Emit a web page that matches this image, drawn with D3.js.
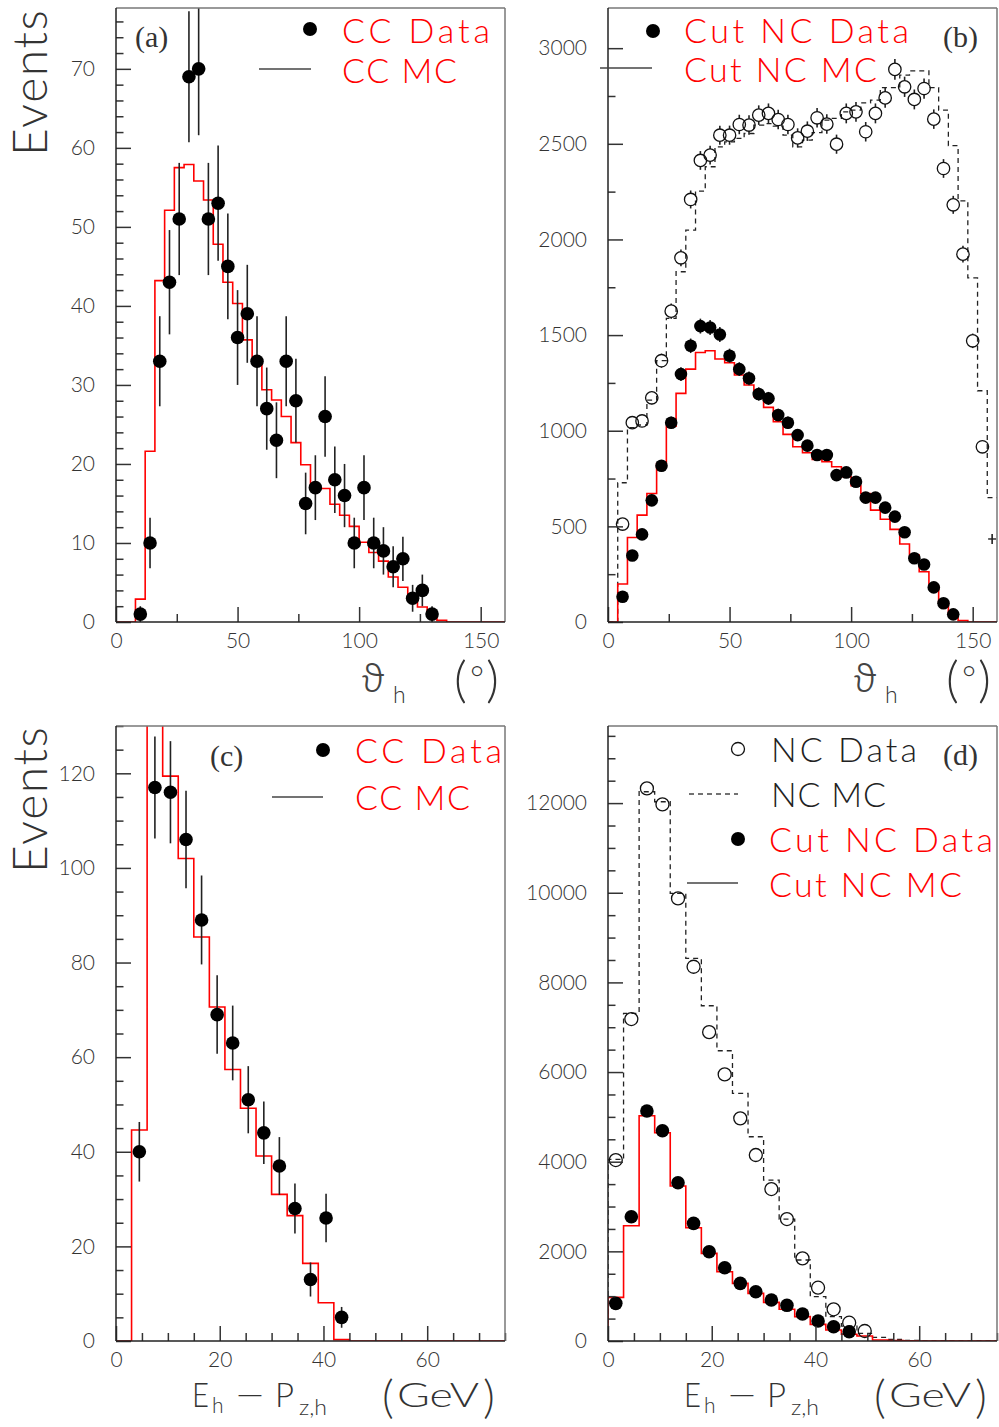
<!DOCTYPE html>
<html><head><meta charset="utf-8">
<script src="https://cdn.jsdelivr.net/npm/d3@7/dist/d3.min.js"></script>
<style>body{margin:0;background:#fff}svg{display:block}</style>
</head><body><script>
// ---------------- DATA ----------------
// Panel (a): CC, theta_h (deg)
const aEdges = [0,4,8,12,16,20,24,28,32,36,40,44,48,52,56,60,64,68,72,76,80,84,88,92,96,100,104,108,112,116,120,124,128,132,136,140,144,148,152,156,160];
const aMC = [0,0,2.9,21.6,43.2,52.1,57.5,57.9,55.8,53.4,47.8,43.0,40.3,35.7,33.1,29.4,28.1,26.0,22.7,19.9,17.3,16.9,14.9,13.5,12.1,10.1,8.8,7.7,5.7,4.4,3.0,1.9,1.0,0.2,0,0,0,0,0,0];
const aDataX = [10,14,18,22,26,30,34,38,42,46,50,54,58,62,66,70,74,78,82,86,90,94,98,102,106,110,114,118,122,126,130];
const aDataY = [1,10,33,43,51,69,70,51,53,45,36,39,33,27,23,33,28,15,17,26,18,16,10,17,10,9,7,8,3,4,1];
const aDataErr = [1.0,3.2,5.7,6.6,7.1,8.3,8.4,7.1,7.3,6.7,6.0,6.2,5.7,5.2,4.8,5.7,5.3,3.9,4.1,5.1,4.2,4.0,3.2,4.1,3.2,3.0,2.6,2.8,1.7,2.0,1.0];
const aXTicks = [0,50,100,150];
const aYTicks = [0,10,20,30,40,50,60,70];

// Panel (b): NC and cut NC, theta_h (deg)
const bEdges = aEdges;
const bNcMC = [0,728,1016,1030,1160,1366,1587,1831,2049,2253,2380,2484,2510,2528,2554,2598,2606,2592,2545,2484,2519,2558,2624,2633,2667,2676,2714,2728,2794,2794,2859,2881,2881,2794,2676,2490,2202,1799,1209,650];
const bCutMC = [0,199,442,559,672,829,1024,1195,1322,1409,1418,1375,1355,1291,1239,1178,1122,1047,981,916,885,850,838,812,760,713,672,585,537,484,408,350,263,185,101,37,7,0,0,0];
const bNcX = [6,10,14,18,22,26,30,34,38,42,46,50,54,58,62,66,70,74,78,82,86,90,94,98,102,106,110,114,118,122,126,130,134,138,142,146,150,154,158];
const bNcY = [512,1042,1051,1172,1366,1625,1904,2209,2413,2441,2545,2545,2601,2598,2650,2659,2627,2601,2531,2566,2636,2603,2498,2659,2667,2563,2659,2740,2889,2798,2732,2789,2629,2371,2181,1923,1470,916,434];
const bNcErr = [23,32,32,34,37,40,44,47,49,49,50,50,51,51,51,52,51,51,50,51,51,51,50,52,52,51,52,52,54,53,52,53,51,49,47,44,38,30,21];
const bCutX = [6,10,14,18,22,26,30,34,38,42,46,50,54,58,62,66,70,74,78,82,86,90,94,98,102,106,110,114,118,122,126,130,134,138,142];
const bCutY = [132,348,458,636,817,1042,1296,1444,1547,1540,1503,1392,1322,1274,1192,1169,1082,1042,977,922,873,873,768,782,733,650,650,598,551,469,333,301,181,98,40];
const bCutErr = [11,19,21,25,29,32,36,38,39,39,39,37,36,36,35,34,33,32,31,30,30,30,28,28,27,25,25,24,23,22,18,17,13,10,6];
const bXTicks = [0,50,100,150];
const bYTicks = [0,500,1000,1500,2000,2500,3000];

// Panel (c): CC, E-Pz (GeV)
const cEdges = [0,3,6,9,12,15,18,21,24,27,30,33,36,39,42,45,48,51,54,57,60,63,66,69,72,75];
const cMC = [0,44.6,140,119.4,102.0,85.4,70.6,57.4,49.2,39.1,31.0,26.5,16.4,8.1,0.3,0,0,0,0,0,0,0,0,0,0];
const cDataX = [4.5,7.5,10.5,13.5,16.5,19.5,22.5,25.5,28.5,31.5,34.5,37.5,40.5,43.5];
const cDataY = [40,117,116,106,89,69,63,51,44,37,28,13,26,5];
const cDataErr = [6.3,10.8,10.8,10.3,9.4,8.3,7.9,7.1,6.6,6.1,5.3,3.6,5.1,2.2];
const cXTicks = [0,20,40,60];
const cYTicks = [0,20,40,60,80,100,120];

// Panel (d): NC and cut NC, E-Pz (GeV)
const dEdges = cEdges;
const dNcMC = [4050,7309,12253,12030,9986,8536,7479,6475,5525,4557,3591,2721,1807,988,542,330,170,80,35,12,0,0,0,0,0];
const dCutMC = [974,2572,5026,4646,3457,2528,1955,1546,1286,1063,862,707,543,372,245,149,112,22,12,5,0,0,0,0,0];
const dNcX = [1.5,4.5,7.5,10.5,13.5,16.5,19.5,22.5,25.5,28.5,31.5,34.5,37.5,40.5,43.5,46.5,49.5];
const dNcY = [4037,7182,12328,11971,9874,8349,6890,5948,4967,4149,3390,2721,1844,1189,707,408,223];
const dNcErr = [64,85,111,109,99,91,83,77,70,64,58,52,43,34,27,20,15];
const dCutX = [1.5,4.5,7.5,10.5,13.5,16.5,19.5,22.5,25.5,28.5,31.5,34.5,37.5,40.5,43.5,46.5];
const dCutY = [840,2773,5130,4691,3531,2625,1992,1635,1286,1100,915,796,602,446,319,207];
const dCutErr = [29,53,72,68,59,51,45,40,36,33,30,28,25,21,18,14];
const dXTicks = [0,20,40,60];
const dYTicks = [0,2000,4000,6000,8000,10000,12000];

// ---------------- DRAWING ----------------
const FONT = "Lato, 'Open Sans', 'DejaVu Sans', sans-serif";
const SERIF = "'Liberation Serif', 'DejaVu Serif', serif";
const W = 999, H = 1427;
const svg = d3.select('body').append('svg').attr('width', W).attr('height', H)
  .style('font-family', FONT);
const defs = svg.append('defs');

function panel(id, box, xDom, yDom, xTicks, yTicks, xMinorStep, yMinorStep) {
  const {l, t, r, b} = box;
  const x = d3.scaleLinear().domain(xDom).range([l, r]);
  const y = d3.scaleLinear().domain(yDom).range([b, t]);
  defs.append('clipPath').attr('id', 'clip' + id).append('rect')
    .attr('x', l).attr('y', t).attr('width', r - l).attr('height', b - t);
  const g = svg.append('g');
  const plot = g.append('g').attr('clip-path', `url(#clip${id})`);
  const marks = g.append('g');
  const xMinor = d3.range(xDom[0], xDom[1] + 1e-9, xMinorStep).filter(v => !xTicks.includes(v));
  const yMinor = d3.range(yDom[0], yDom[1] + 1e-9, yMinorStep).filter(v => !yTicks.includes(v));
  const axG = g.append('g');
  const styleAxis = sel => {
    sel.select('.domain').remove();
    sel.selectAll('line').attr('stroke', '#333').attr('stroke-width', 1.5);
    sel.selectAll('text').attr('font-size', 21).attr('fill', '#333')
      .attr('font-weight', 300).attr('font-family', FONT);
  };
  axG.append('g').attr('transform', `translate(${l},0)`)
    .call(d3.axisLeft(y).tickValues(yMinor).tickSize(-7.5).tickFormat('')).call(styleAxis);
  axG.append('g').attr('transform', `translate(${l},0)`)
    .call(d3.axisLeft(y).tickValues(yTicks).tickSize(-15).tickPadding(21).tickFormat(d3.format('d'))).call(styleAxis);
  axG.append('g').attr('transform', `translate(0,${b})`)
    .call(d3.axisBottom(x).tickValues(xMinor).tickSize(-8).tickFormat('')).call(styleAxis);
  axG.append('g').attr('transform', `translate(0,${b})`)
    .call(d3.axisBottom(x).tickValues(xTicks).tickSize(-15).tickPadding(11).tickFormat(d3.format('d'))).call(styleAxis);
  // frame
  g.append('line').attr('x1', l).attr('x2', r).attr('y1', t).attr('y2', t).attr('stroke', '#777').attr('stroke-width', 1.5);
  g.append('line').attr('x1', r).attr('x2', r).attr('y1', t).attr('y2', b).attr('stroke', '#777').attr('stroke-width', 1.5);
  g.append('line').attr('x1', l).attr('x2', l).attr('y1', t).attr('y2', b).attr('stroke', '#222').attr('stroke-width', 1.5);
  g.append('line').attr('x1', l).attr('x2', r).attr('y1', b).attr('y2', b).attr('stroke', '#222').attr('stroke-width', 1.5);
  return {x, y, plot, marks, box};
}

function hist(P, edges, vals, stroke, dash, width) {
  const pts = [[edges[0], 0]];
  vals.forEach((v, i) => pts.push([edges[i], v]));
  pts.push([edges[edges.length - 1], vals[vals.length - 1]]);
  const line = d3.line().x(d => P.x(d[0])).y(d => P.y(d[1])).curve(d3.curveStepAfter);
  P.plot.append('path').attr('d', line(pts)).attr('fill', 'none')
    .attr('stroke', stroke).attr('stroke-width', width)
    .attr('stroke-dasharray', dash || null);
}

function points(P, xs, ys, errs, filled, r) {
  xs.forEach((xv, i) => {
    const cx = P.x(xv), cy = P.y(ys[i]);
    const top = P.y(ys[i] + errs[i]), bot = P.y(Math.max(0, ys[i] - errs[i]));
    const eb = (y1, y2) => P.plot.append('line').attr('x1', cx).attr('x2', cx).attr('y1', y1).attr('y2', y2)
      .attr('stroke', '#222').attr('stroke-width', 1.6);
    if (cx + r > P.box.r) {
      // marker would cross the frame: only the error cross is shown
      eb(Math.min(top, cy - 5), Math.max(bot, cy + 5));
      P.plot.append('line').attr('x1', cx - 4).attr('x2', cx + 4).attr('y1', cy).attr('y2', cy)
        .attr('stroke', '#222').attr('stroke-width', 1.4);
      return;
    }
    if (filled) {
      eb(top, bot);
      P.marks.append('circle').attr('cx', cx).attr('cy', cy).attr('r', r).attr('fill', '#000');
    } else {
      if (cy - r > top) eb(top, cy - r);
      if (bot > cy + r) eb(cy + r, bot);
      P.marks.append('circle').attr('cx', cx).attr('cy', cy).attr('r', r)
        .attr('fill', 'none').attr('stroke', '#111').attr('stroke-width', 1.3);
    }
  });
}

function legText(x, yb, str, color, len) {
  svg.append('text').attr('x', x).attr('y', yb).text(str)
    .attr('font-size', 34).attr('font-weight', 300).attr('fill', color)
    .attr('textLength', len).attr('lengthAdjust', 'spacing');
}
function legDot(cx, cy, filled, r) {
  const c = svg.append('circle').attr('cx', cx).attr('cy', cy).attr('r', r);
  if (filled) c.attr('fill', '#000'); else c.attr('fill', 'none').attr('stroke', '#111').attr('stroke-width', 1.3);
}
function legLine(x1, x2, y, dash) {
  svg.append('line').attr('x1', x1).attr('x2', x2).attr('y1', y).attr('y2', y)
    .attr('stroke', '#444').attr('stroke-width', 1.5).attr('stroke-dasharray', dash || null);
}
function panelLabel(x, yb, str) {
  svg.append('text').attr('x', x).attr('y', yb).text(str).attr('font-family', SERIF)
    .attr('font-size', 30).attr('fill', '#333');
}
function eventsLabel(yTop) {
  svg.append('text').attr('transform', `translate(47,${yTop}) rotate(-90)`).attr('text-anchor', 'end')
    .text('Events').attr('font-size', 48).attr('font-weight', 300).attr('fill', '#333')
    .attr('textLength', 146).attr('lengthAdjust', 'spacing');
}
function t(x, y, str, size, opts = {}) {
  const e = svg.append('text').attr('x', x).attr('y', y).text(str).attr('font-size', size)
    .attr('font-weight', opts.weight || 300).attr('fill', opts.fill || '#333');
  if (opts.len) e.attr('textLength', opts.len).attr('lengthAdjust', 'spacingAndGlyphs');
  if (opts.family) e.attr('font-family', opts.family);
  return e;
}
function thetaTitle(dx) {
  t(362 + dx, 692, 'ϑ', 38, {family: "'Noto Sans', 'Liberation Serif', serif", weight: 300, fill: '#444'});
  t(393 + dx, 703, 'h', 23);
  t(454 + dx, 697, '(', 50);
  t(470 + dx, 690, '°', 34);
  t(486 + dx, 697, ')', 50);
}
function epzTitle(dx) {
  t(192 + dx, 1407, 'E', 34, {len: 17});
  t(212 + dx, 1413, 'h', 21);
  t(234 + dx, 1407, '−', 34, {len: 32});
  t(275 + dx, 1407, 'P', 34, {len: 19});
  t(299 + dx, 1415, 'z,h', 21, {len: 28});
  t(382 + dx, 1413, '(', 46);
  t(397 + dx, 1407, 'GeV', 34, {len: 82});
  t(483 + dx, 1413, ')', 46);
}

// Panel (a)
const A = panel('a', {l: 116, t: 8, r: 505, b: 622}, [0, 160], [0, 77.7], aXTicks, aYTicks, 25, 2);
hist(A, aEdges, aMC, '#ff0000', null, 1.6);
points(A, aDataX, aDataY, aDataErr, true, 6.8);
// Panel (b)
const B = panel('b', {l: 608, t: 8, r: 997, b: 622}, [0, 160], [0, 3210], bXTicks, bYTicks, 25, 250);
hist(B, bEdges, bNcMC, '#222', '5,4', 1.3);
hist(B, bEdges, bCutMC, '#ff0000', null, 1.6);
points(B, bNcX, bNcY, bNcErr, false, 6.2);
points(B, bCutX, bCutY, bCutErr, true, 6.3);
// Panel (c)
const C = panel('c', {l: 116, t: 726, r: 505, b: 1341}, [0, 75], [0, 130], cXTicks, cYTicks, 5, 5);
hist(C, cEdges, cMC, '#ff0000', null, 1.6);
points(C, cDataX, cDataY, cDataErr, true, 6.8);
// Panel (d)
const D = panel('d', {l: 608, t: 726, r: 997, b: 1341}, [0, 75], [0, 13720], dXTicks, dYTicks, 5, 500);
hist(D, dEdges, dNcMC, '#222', '5,4', 1.3);
hist(D, dEdges, dCutMC, '#ff0000', null, 1.6);
points(D, dNcX, dNcY, dNcErr, false, 6.5);
points(D, dCutX, dCutY, dCutErr, true, 6.8);

// legends
legDot(310, 29, true, 7); legText(342, 43, 'CC Data', '#ff0000', 148);
legLine(259, 311, 69); legText(342, 83, 'CC MC', '#ff0000', 115);
legDot(653, 31, true, 7); legText(684, 43, 'Cut NC Data', '#ff0000', 225);
legLine(600, 652, 68); legText(684, 82, 'Cut NC MC', '#ff0000', 193);
legDot(323, 750, true, 7); legText(355, 763, 'CC Data', '#ff0000', 147);
legLine(272, 323, 797); legText(355, 810, 'CC MC', '#ff0000', 115);
legDot(738, 749, false, 6.5); legText(771, 762, 'NC Data', '#222', 146);
legLine(689, 738, 794, '5,4'); legText(771, 807, 'NC MC', '#222', 115);
legDot(738, 839, true, 7); legText(769, 852, 'Cut NC Data', '#ff0000', 224);
legLine(687, 738, 883); legText(769, 897, 'Cut NC MC', '#ff0000', 193);

panelLabel(135, 47, '(a)');
panelLabel(943, 47, '(b)');
panelLabel(210, 766, '(c)');
panelLabel(943, 765, '(d)');

eventsLabel(10);
eventsLabel(727);
thetaTitle(0); thetaTitle(492);
epzTitle(0); epzTitle(492);
</script></body></html>
